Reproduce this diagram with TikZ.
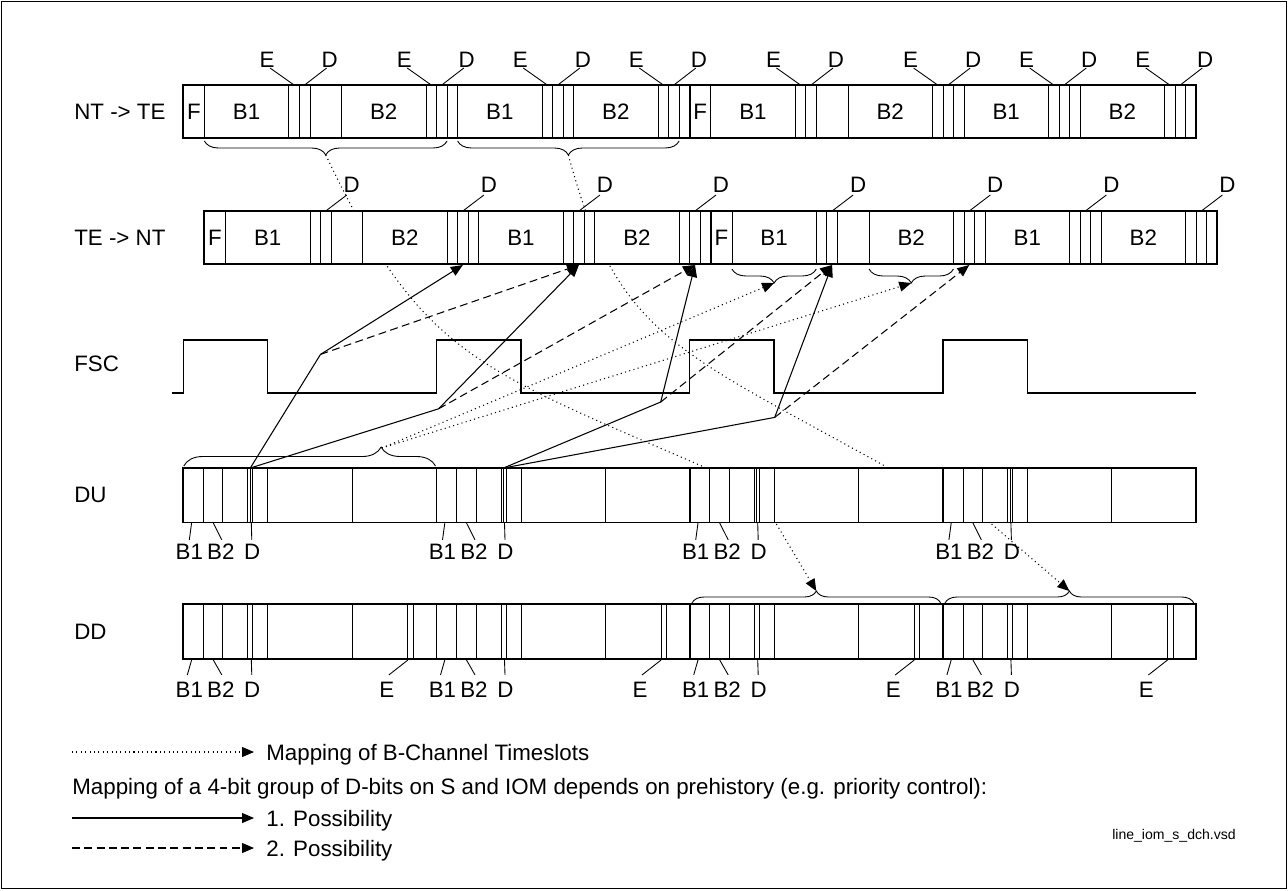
\documentclass[tikz,border=0pt]{standalone}
\usepackage{fontspec}
\setmainfont{Liberation Sans}
\usepackage{tikz}
\usetikzlibrary{calc}
\usetikzlibrary{arrows.meta}
\usetikzlibrary{decorations.pathreplacing}
\tikzstyle{every node}=[font=\fontsize{12.7}{15}\selectfont, inner sep=0pt]
\tikzstyle{frame}=[draw, line width=1.1pt, fill=white]
\tikzstyle{sep}=[line width=1.1pt]
\tikzstyle{bitline}=[line width=0.45pt]
\tikzstyle{leader}=[line width=0.5pt]
\tikzstyle{fsc}=[line width=0.8pt]
\tikzstyle{bmap}=[line width=0.6pt, dash pattern=on 0.6pt off 1.9pt]
\tikzstyle{dmapa}=[line width=0.6pt]
\tikzstyle{dmapb}=[line width=0.6pt, dash pattern=on 4.5pt off 2.5pt]
\tikzstyle{head}=[-{Triangle[length=2.4mm,width=2mm]}]
\tikzstyle{bracedown}=[decorate, decoration={brace, mirror, amplitude=0.28cm}, line width=0.5pt]
\tikzstyle{braceup}=[decorate, decoration={brace, amplitude=0.24cm}, line width=0.5pt]
\def\sbitw{10.55}

\begin{document}
\begin{tikzpicture}[x=0.02cm, y=-0.02cm]
\useasboundingbox (0,0) rectangle (1288,890);
\draw[line width=0.8pt] (1.5,1.5) rectangle (1286.5,888.5);

\coordinate (ntb1) at (325.8,155);
\coordinate (ntb2) at (568.4,155);
\coordinate (dua) at (704,467);
\coordinate (dub) at (886.6,467);
\draw[bmap] (ntb1) .. controls (421,355) and (474,367) .. (dua);
\draw[bmap] (ntb2) .. controls (617,335) and (670.6,347) .. (dub);

\node[anchor=west] (lnt) at (74,111.5) {NT -> TE};
\draw[frame] (183.3,85) rectangle (1196.1,138);
\foreach \f in {0,1} {
  \pgfmathsetmacro\fx{183.3+48*\f*\sbitw}
  \foreach \b in {2,10,11,12,15,23,24,25,26,34,35,36,37,45,46,47}
    \draw[bitline] ({\fx+\b*\sbitw},85) -- ++(0,53);
  \node (ntF\f) at ({\fx+\sbitw},111.5) {F};
  \node (ntBa\f) at ({\fx+6*\sbitw},111.5) {B1};
  \node (ntBb\f) at ({\fx+19*\sbitw},111.5) {B2};
  \node (ntBc\f) at ({\fx+30*\sbitw},111.5) {B1};
  \node (ntBd\f) at ({\fx+41*\sbitw},111.5) {B2};
  \foreach \e [count=\i] in {10.5,23.5,34.5,45.5} {
    \node (ntE\f\i) at ({\fx+\e*\sbitw-27},59.5) {E};
    \node (ntD\f\i) at ({\fx+(\e+1)*\sbitw+25},59.5) {D};
    \coordinate (ntEe\f\i) at ({\fx+\e*\sbitw},85);
    \coordinate (ntDe\f\i) at ({\fx+(\e+1)*\sbitw},85);
    \draw[leader] ($(ntE\f\i.south)+(3,0.5)$) -- (ntEe\f\i);
    \draw[leader] ($(ntD\f\i.south)+(-3,0.5)$) -- (ntDe\f\i);
  }
}
\draw[sep] ({183.3+48*\sbitw},85) -- ++(0,53);
\draw[bracedown] ({183.3+2*\sbitw},141) -- ({183.3+25*\sbitw},141);
\draw[bracedown] ({183.3+26*\sbitw},141) -- ({183.3+47*\sbitw},141);

\node[anchor=west] (ltn) at (74,237.5) {TE -> NT};
\draw[frame] (204.4,211) rectangle (1217.2,264);
\foreach \f in {0,1} {
  \pgfmathsetmacro\fx{204.4+48*\f*\sbitw}
  \foreach \b in {2,10,11,12,15,23,24,25,26,34,35,36,37,45,46,47}
    \draw[bitline] ({\fx+\b*\sbitw},211) -- ++(0,53);
  \node (tnF\f) at ({\fx+\sbitw},237.5) {F};
  \node (tnBa\f) at ({\fx+6*\sbitw},237.5) {B1};
  \node (tnBb\f) at ({\fx+19*\sbitw},237.5) {B2};
  \node (tnBc\f) at ({\fx+30*\sbitw},237.5) {B1};
  \node (tnBd\f) at ({\fx+41*\sbitw},237.5) {B2};
  \foreach \d [count=\i] in {11.5,24.5,35.5,46.5} {
    \node (tnD\f\i) at ({\fx+\d*\sbitw+26},185) {D};
    \coordinate (tnDe\f\i) at ({\fx+\d*\sbitw},211);
    \draw[leader] ($(tnD\f\i.south)+(-5,2)$) -- (tnDe\f\i);
  }
}
\draw[sep] ({204.4+48*\sbitw},211) -- ++(0,53);
\draw[bracedown] ({204.4+50*\sbitw},269) -- ({204.4+58*\sbitw},269);
\draw[bracedown] ({204.4+63*\sbitw},269) -- ({204.4+71*\sbitw},269);
\coordinate (tnb1) at ({204.4+54*\sbitw},283);
\coordinate (tnb2) at ({204.4+67*\sbitw},283);
\coordinate (tn1) at ({204.4+24.5*\sbitw},265);
\coordinate (tn2) at ({204.4+35.5*\sbitw},265);
\coordinate (tn3) at ({204.4+46.5*\sbitw},265);
\coordinate (tn4) at ({204.4+59.5*\sbitw},265);
\coordinate (tn5) at ({204.4+72.5*\sbitw},265);

\node[anchor=west] (lfsc) at (74,364) {FSC};
\draw[fsc] (171.7,393) \foreach \f in {0,...,3} { -- ({183.3+\f*253.2},393) -- ++(0,-53) -- ++(84.4,0) -- ++(0,53) } -- (1196.1,393);

\node[anchor=west] (ldu) at (74,495) {DU};
\foreach \f in {0,...,3} {
  \pgfmathsetmacro\fx{183.3+\f*253.2}
  \draw[frame] (\fx,468) rectangle ++(253.2,54.5);
  \foreach \r in {20,39.5,64.5,67,69.5,84.4,168.8}
    \draw[bitline] ({\fx+\r},468) -- ++(0,54.5);
  \node (duBa\f) at ({\fx+6},552) {B1};
  \node (duBb\f) at ({\fx+37.5},552) {B2};
  \node (duDl\f) at ({\fx+69},552) {D};
  \coordinate (duBae\f) at ({\fx+8.3},523);
  \coordinate (duBbe\f) at ({\fx+30},523);
  \coordinate (duDe\f) at ({\fx+68},523);
  \draw[leader] ($(duBa\f.north)+(0,-4)$) -- (duBae\f);
  \draw[leader] ($(duBb\f.north)+(1,-4)$) -- (duBbe\f);
  \draw[leader] ($(duDl\f.north)+(-0.5,-4)$) -- (duDe\f);
}
\draw[braceup] (183.8,466) -- (435.5,466) [decoration={aspect=0.784, amplitude=0.38cm}];
\coordinate (dut) at (381.8,448);
\coordinate (dud0) at (250.3,468);
\coordinate (dud1) at (503.5,468);
\coordinate (duo3) at (776.4,524);
\coordinate (duo4) at (991.6,524);

\node[anchor=west] (ldd) at (74,632) {DD};
\foreach \f in {0,...,3} {
  \pgfmathsetmacro\fx{183.3+\f*253.2}
  \draw[frame] (\fx,604) rectangle ++(253.2,55);
  \foreach \r in {20,39.5,64.5,69.5,84.4,168.8,224.5,230}
    \draw[bitline] ({\fx+\r},604) -- ++(0,55);
  \node (ddBa\f) at ({\fx+6},690) {B1};
  \node (ddBb\f) at ({\fx+37.5},690) {B2};
  \node (ddDl\f) at ({\fx+69},690) {D};
  \node (ddE\f) at ({\fx+203.5},690) {E};
  \coordinate (ddBae\f) at ({\fx+8.3},660);
  \coordinate (ddBbe\f) at ({\fx+30},660);
  \coordinate (ddDe\f) at ({\fx+68},660);
  \coordinate (ddEe\f) at ({\fx+224.6},660);
  \draw[leader] ($(ddBa\f.north)+(-2,-7)$) -- (ddBae\f);
  \draw[leader] ($(ddBb\f.north)+(1,-7)$) -- (ddBbe\f);
  \draw[leader] ($(ddDl\f.north)+(-0.5,-7)$) -- (ddDe\f);
  \draw[leader] ($(ddE\f.north)+(2,-7)$) -- (ddEe\f);
}
\draw[braceup] (692,603) -- (940.7,603);
\draw[braceup] (945,603) -- (1193.8,603);
\coordinate (ddb1) at (816.3,591);
\coordinate (ddb2) at (1069.4,591);

\coordinate (k1) at (320.5,354.4);
\coordinate (k2) at (438.6,408.8);
\coordinate (k3) at (660.7,402);
\coordinate (k4) at (774.7,417.4);
\draw[dmapa] (dud0) -- (k1);
\draw[dmapa] (dud0) -- (k2);
\draw[dmapa] (dud1) -- (k3);
\draw[dmapa] (dud1) -- (k4);
\draw[dmapa, head] (k1) -- (tn1);
\draw[dmapb, head] (k1) -- (tn2);
\draw[dmapa, head] (k2) -- (tn2);
\draw[dmapb, head] (k2) -- (tn3);
\draw[dmapa, head] (k3) -- (tn3);
\draw[dmapb, head] (k3) -- (tn4);
\draw[dmapa, head] (k4) -- (tn4);
\draw[dmapb, head] (k4) -- (tn5);

\draw[bmap, head] (dut) -- (tnb1);
\draw[bmap, head] (dut) -- (tnb2);
\draw[bmap, head] (duo3) -- (ddb1);
\draw[bmap, head] (duo4) -- (ddb2);

\coordinate (lga) at (72,752);
\coordinate (lgb) at (254,752);
\draw[bmap, head] (lga) -- (lgb);
\node[anchor=base west] (lgt1) at (266,760) {Mapping of B-Channel Timeslots};
\node[anchor=base west] (lgt2) at (72,794) {Mapping of a 4-bit group of D-bits on S and IOM depends on prehistory (e.g. priority control):};
\coordinate (lgc) at (72,818);
\coordinate (lgd) at (254,818);
\draw[dmapa, head] (lgc) -- (lgd);
\node[anchor=base west] (lgt3) at (266,826) {1. Possibility};
\coordinate (lge) at (72,848);
\coordinate (lgf) at (254,848);
\draw[dmapb, head] (lge) -- (lgf);
\node[anchor=base west] (lgt4) at (266,856) {2. Possibility};
\node (vsd) at (1174,836) {\fontsize{8}{10}\selectfont line\_iom\_s\_dch.vsd};
\end{tikzpicture}
\end{document}
